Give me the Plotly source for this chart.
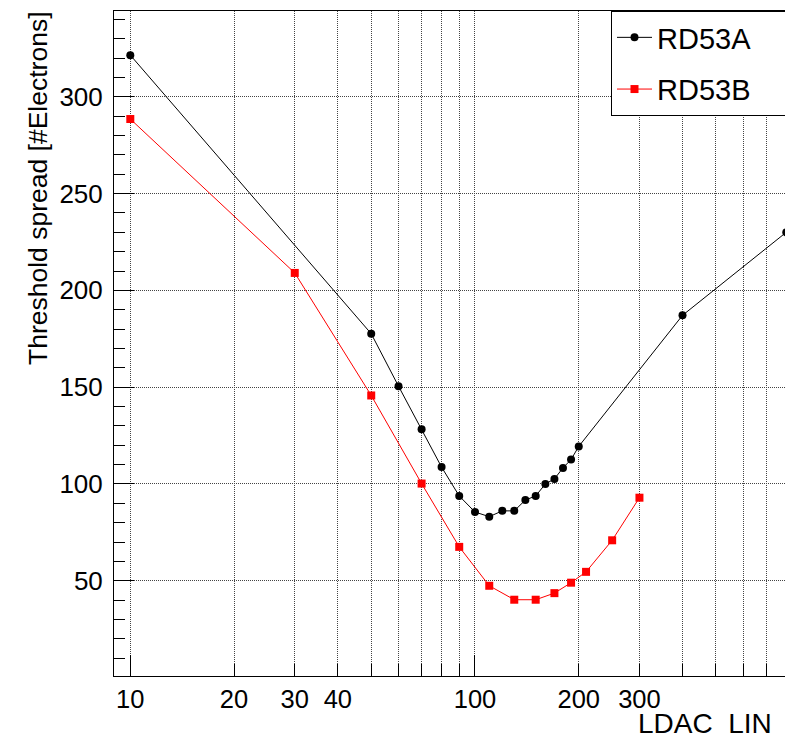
import math
import plotly.graph_objects as go

# ---- data ----
rd53a_ldac = [10, 50, 60, 70, 80, 90, 100, 110, 120, 130, 140, 150, 160, 170, 180, 190, 200, 400, 800]
rd53a_spread = [321.5, 177.6, 150.5, 128.2, 108.7, 93.8, 85.5, 83.1, 86.1, 86.1, 91.7, 93.8,
                100.0, 102.6, 108.3, 112.6, 119.4, 187.1, 230.0]

rd53b_ldac = [10, 30, 50, 70, 90, 110, 130, 150, 170, 190, 210, 250, 300]
rd53b_spread = [288.5, 209.0, 145.7, 100.2, 67.5, 47.4, 40.2, 40.2, 43.6, 49.0, 54.6, 70.9, 92.9]

series_names = ["RD53A", "RD53B"]

major_x = [10, 100, 1000]
all_x_ticks = [10, 20, 30, 40, 50, 60, 70, 80, 90, 100, 200, 300, 400, 500, 600, 700, 800, 900]
labeled_x = {10: "10", 20: "20", 30: "30", 40: "40", 100: "100", 200: "200", 300: "300"}
x_ticktext = [labeled_x.get(v, "") for v in all_x_ticks]

FONT = "Liberation Sans, Arial, Helvetica, sans-serif"
GRID_DASH = "1px,1px"
GRID_COLOR = "#444444"

W, H = 785, 741
ML, MR, MT, MB = 114, 0, 11, 65
xrange_log = [0.9527, 2.8994]
yrange = [0.8, 344.3]

# the legend box of the reference runs past the right edge of the picture
PAD = "\u00a0" * 4

fig = go.Figure()
fig.add_trace(go.Scatter(
    x=rd53a_ldac, y=rd53a_spread, mode="lines+markers", name=series_names[0] + PAD,
    legendgroup="a",
    line=dict(color="black", width=1),
    marker=dict(symbol="circle", size=8, color="black"),
))
fig.add_trace(go.Scatter(
    x=rd53b_ldac, y=rd53b_spread, mode="lines+markers", name=series_names[1] + PAD,
    legendgroup="b",
    line=dict(color="#ff0000", width=1),
    marker=dict(symbol="square", size=8, color="#ff0000"),
))
# helper trace to hold the overlay axis carrying the long decade ticks
fig.add_trace(go.Scatter(x=[10], y=[None], xaxis="x2", showlegend=False,
                         mode="markers", hoverinfo="skip"))

pw = W - ML - MR
ph = H - MT - MB

def px_to_paper_x(px):
    return (px - ML) / pw

def px_to_paper_y(py):
    return (H - MB - py) / ph

fig.update_layout(
    width=W, height=H,
    margin=dict(l=ML, r=MR, t=MT, b=MB, autoexpand=False),
    paper_bgcolor="white", plot_bgcolor="white",
    font=dict(family=FONT, color="black", size=25),
    showlegend=True,
    legend=dict(
        x=px_to_paper_x(611), y=1.0, xanchor="left", yanchor="top",
        bordercolor="black", borderwidth=1, bgcolor="white",
        font=dict(size=29, family=FONT, color="black"),
        itemwidth=35, tracegroupgap=11, traceorder="grouped",
    ),
    xaxis=dict(
        type="log", range=xrange_log,
        tickmode="array", tickvals=all_x_ticks, ticktext=x_ticktext,
        ticks="inside", ticklen=12, tickwidth=1, tickcolor="black",
        tickfont=dict(size=25.5, family=FONT, color="black"),
        showline=True, linecolor="black", linewidth=1, mirror=True,
        showgrid=True, gridcolor=GRID_COLOR, griddash=GRID_DASH, gridwidth=1,
        zeroline=False,
    ),
    xaxis2=dict(
        type="log", range=xrange_log, overlaying="x", anchor="y", side="bottom",
        tickmode="array", tickvals=major_x,
        ticks="inside", ticklen=21, tickwidth=1, tickcolor="black",
        showticklabels=False, showgrid=False, showline=False, zeroline=False,
    ),
    yaxis=dict(
        range=yrange, tickmode="linear", tick0=0, dtick=50,
        ticks="inside", ticklen=20, tickwidth=1, tickcolor="black",
        tickfont=dict(size=26, family=FONT, color="black"),
        ticklabelstandoff=5,
        minor=dict(dtick=10, tick0=0, ticks="inside", ticklen=11, tickcolor="black", showgrid=False),
        showline=True, linecolor="black", linewidth=1,
        showgrid=True, gridcolor=GRID_COLOR, griddash=GRID_DASH, gridwidth=1,
        zeroline=False,
    ),
    annotations=[
        dict(text="Threshold spread [#Electrons]", textangle=-90, showarrow=False,
             xref="paper", yref="paper", x=px_to_paper_x(38), y=px_to_paper_y(9),
             xanchor="center", yanchor="top", font=dict(size=26.5, family=FONT, color="black")),
        dict(text="LDAC  LIN", showarrow=False,
             xref="paper", yref="paper", x=px_to_paper_x(774), y=px_to_paper_y(724),
             xanchor="right", yanchor="middle", font=dict(size=28, family=FONT, color="black")),
    ],
)

fig.write_html("out.html")
